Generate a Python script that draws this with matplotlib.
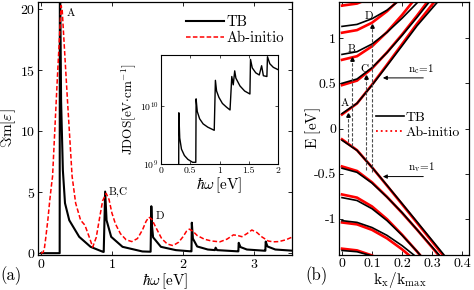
import matplotlib
matplotlib.use('Agg')
import matplotlib.pyplot as plt
from matplotlib.lines import Line2D

plt.rcParams['font.family'] = 'serif'
plt.rcParams['font.serif'] = ['cmr10', 'DejaVu Serif']
plt.rcParams['mathtext.fontset'] = 'cm'
plt.rcParams['axes.unicode_minus'] = False
plt.rcParams['axes.formatter.use_mathtext'] = True
plt.rcParams['xtick.direction'] = 'in'
plt.rcParams['ytick.direction'] = 'in'
plt.rcParams['xtick.top'] = True
plt.rcParams['ytick.right'] = True

# (a) absorption spectrum, TB
tb_w = [0.0, 0.265, 0.268, 0.285, 0.31, 0.34, 0.40, 0.54, 0.70, 0.87, 0.885, 0.905, 0.925, 0.99, 1.15,
        1.43, 1.545, 1.555, 1.565, 1.58, 1.69, 1.9, 2.11, 2.12, 2.125, 2.14, 2.2, 2.35, 2.45, 2.46,
        2.48, 2.77, 2.78, 2.785, 2.81, 2.9, 3.15, 3.16, 3.165, 3.19, 3.3, 3.55]
tb_eps = [0.0, 0.0, 25.0, 12.5, 6.8, 4.1, 2.7, 1.34, 0.52, 0.12, 0.1, 5.05, 2.7, 1.34, 0.52,
          0.14, 0.12, 3.85, 2.2, 1.3, 0.52, 0.25, 0.15, 0.15, 2.5, 1.2, 0.55, 0.3, 0.25, 0.45,
          0.25, 0.15, 0.15, 0.85, 0.5, 0.3, 0.2, 0.2, 0.95, 0.55, 0.3, 0.2]

# (a) absorption spectrum, ab-initio
ai_w = [0.0, 0.03, 0.05, 0.07, 0.10, 0.125, 0.15, 0.165, 0.225, 0.285, 0.30, 0.37, 0.44, 0.49, 0.56,
        0.62, 0.68, 0.73, 0.78, 0.83, 0.87, 0.92, 0.96, 1.0, 1.05, 1.12, 1.2, 1.28, 1.36, 1.43,
        1.48, 1.52, 1.56, 1.62, 1.7, 1.78, 1.86, 1.94, 2.0, 2.05, 2.09, 2.14, 2.2, 2.3, 2.4,
        2.52, 2.62, 2.71, 2.77, 2.83, 2.9, 2.97, 3.04, 3.11, 3.2, 3.27, 3.35, 3.45, 3.55]
ai_eps = [0.0, 0.05, 0.4, 1.3, 2.8, 4.3, 5.6, 6.3, 13.5, 20.3, 20.0, 13.0, 6.3, 4.1, 2.7,
          2.3, 1.34, 0.5, 1.3, 3.0, 4.3, 4.9, 4.4, 3.3, 2.4, 1.6, 1.1, 0.95, 1.2, 1.9,
          2.6, 2.95, 2.8, 2.1, 1.2, 0.75, 0.62, 0.9, 1.34, 1.8, 1.97, 1.8, 1.45, 1.15, 1.0,
          0.93, 1.15, 1.5, 1.45, 1.35, 1.6, 1.9, 1.7, 1.34, 1.0, 0.93, 0.95, 1.1, 1.35]

# inset JDOS
jd_w = [0.30, 0.305, 0.32, 0.35, 0.40, 0.46, 0.54, 0.595, 0.60, 0.62, 0.66, 0.72, 0.80, 0.91,
        0.93, 0.95, 0.99, 1.05, 1.12, 1.18, 1.21, 1.235, 1.26, 1.28, 1.35, 1.43, 1.52, 1.53,
        1.56, 1.62, 1.68, 1.72, 1.75, 1.81, 1.82, 1.86, 1.92, 2.0]
jd_val = [1e8, 7.6e9, 2.8e9, 1.8e9, 1.4e9, 1.2e9, 1.07e9, 1.07e9, 1.32e10, 8e9, 6e9, 4.9e9, 4.3e9, 3.8e9,
          2.75e10, 1.8e10, 1.4e10, 1.1e10, 9.5e9, 8.5e9, 3.2e10, 2.3e10, 4.0e10, 3.0e10, 2.2e10, 1.8e10, 1.6e10, 6.3e10,
          4.5e10, 3.7e10, 3.4e10, 4.9e10, 3.3e10, 3.2e10, 7.0e10, 5.3e10, 4.6e10, 4.2e10]

# (b) band structure, k grid and bands
k = [0.0, 0.05, 0.1, 0.15, 0.2, 0.25, 0.3, 0.35]
tb_cb = [
    [0.165, 0.279, 0.479, 0.695, 0.915, 1.137, 1.33, 1.52],
    [0.50, 0.548, 0.673, 0.84, 1.03, 1.23, 1.44, 1.65],
    [0.82, 0.85, 0.935, 1.065, 1.22, 1.39, 1.58, 1.78],
    [1.13, 1.152, 1.215, 1.31, 1.44, 1.6, 1.78, 1.98],
    [1.40, 1.42, 1.48, 1.56, 1.68, 1.82, 1.98, 2.15],
]
ai_cb = [
    [0.155, 0.277, 0.485, 0.707, 0.933, 1.16, 1.37, 1.58],
    [0.48, 0.53, 0.665, 0.843, 1.04, 1.25, 1.47, 1.69],
    [0.76, 0.80, 0.91, 1.068, 1.256, 1.463, 1.68, 1.9],
    [1.06, 1.089, 1.171, 1.298, 1.458, 1.64, 1.84, 2.05],
    [1.36, 1.383, 1.45, 1.55, 1.69, 1.85, 2.02, 2.2],
]
tb_vb = [
    [-0.13, -0.243, -0.43, -0.629, -0.83, -1.033, -1.237, -1.441],
    [-0.44, -0.485, -0.604, -0.76, -0.93, -1.12, -1.31, -1.50],
    [-0.765, -0.797, -0.888, -1.02, -1.181, -1.36, -1.55, -1.75],
    [-1.02, -1.039, -1.096, -1.183, -1.296, -1.428, -1.57, -1.73],
    [-1.35, -1.364, -1.41, -1.48, -1.57, -1.68, -1.8, -1.95],
]
ai_vb = [
    [-0.12, -0.24, -0.43, -0.633, -0.838, -1.044, -1.251, -1.459],
    [-0.42, -0.47, -0.596, -0.757, -0.934, -1.12, -1.315, -1.515],
    [-0.73, -0.765, -0.863, -1.004, -1.175, -1.362, -1.56, -1.76],
    [-1.04, -1.061, -1.122, -1.216, -1.337, -1.478, -1.63, -1.79],
    [-1.33, -1.349, -1.405, -1.49, -1.6, -1.72, -1.86, -2.0],
]
# optical transitions A, B, C, D
tr_names = ['A', 'B', 'C', 'D']
tr_k = [0.019, 0.034, 0.079, 0.099]
tr_lo = [-0.15, -0.19, -0.46, -0.48]
tr_hi = [0.17, 0.79, 0.59, 1.15]

fig = plt.figure(figsize=(4.74, 2.90), dpi=100)
W, H = 474, 290

# ---- panel (a)
ax = fig.add_axes([38 / W, 1 - 255 / H, 254 / W, 253 / H])
ax.plot(tb_w, tb_eps, color='k', lw=1.5, label='TB')
ax.plot(ai_w, ai_eps, color='red', lw=1.1, ls=(0, (3, 1.5)), label='Ab-initio')
ax.set_xlim(-0.04, 3.535)
ax.set_ylim(-0.15, 20.6)
ax.set_xticks([0, 1, 2, 3])
ax.set_yticks([0, 5, 10, 15, 20])
ax.tick_params(labelsize=10, length=3, width=0.6, pad=2)
ax.set_xlabel(r'$\hbar\omega\,[\mathrm{eV}]$', fontsize=11)
ax.xaxis.set_label_coords(0.5, -0.066)
ax.set_ylabel(r'$\Im\mathrm{m}[\varepsilon]$', fontsize=11)
ax.yaxis.set_label_coords(-0.078, 0.5)
ax.legend(loc='upper left', bbox_to_anchor=(0.53, 1.0), frameon=False, fontsize=10.5,
          handlelength=2.6, handletextpad=0.2, labelspacing=0.2)
ax.text(0.37, 19.7, 'A', fontsize=8, va='center')
ax.text(0.95, 5.0, 'B,C', fontsize=8, va='center')
ax.text(1.62, 3.0, 'D', fontsize=8, va='center')
for s in ax.spines.values():
    s.set_linewidth(0.9)

# ---- inset
axi = fig.add_axes([161 / W, 1 - 164 / H, 117 / W, 109 / H])
axi.semilogy(jd_w, jd_val, color='k', lw=1.0)
axi.set_xlim(0, 2)
axi.set_ylim(1e9, 7.5e10)
axi.set_xticks([0, 0.5, 1, 1.5, 2])
axi.set_xticklabels(['0', '0.5', '1', '1.5', '2'])
axi.set_yticks([1e9, 1e10])
axi.minorticks_off()
axi.tick_params(labelsize=7, length=2, width=0.5, pad=2)
axi.set_xlabel(r'$\hbar\omega\,[\mathrm{eV}]$', fontsize=11, labelpad=0)
axi.set_ylabel(r'JDOS$[\mathrm{eV}{\cdot}\mathrm{cm}^{-1}]$', fontsize=9.5, labelpad=1)

# ---- panel (b)
bx = fig.add_axes([339 / W, 1 - 255 / H, 130 / W, 253 / H])
for band in tb_cb + tb_vb:
    bx.plot(k, band, color='k', lw=1.2, zorder=3)
for band in ai_cb + ai_vb:
    bx.plot(k, band, color='red', lw=1.9, zorder=2)
for name, kk, lo, hi in zip(tr_names, tr_k, tr_lo, tr_hi):
    bx.plot([kk, kk], [lo, hi], color='0.3', lw=0.8, ls=(0, (3, 1.5)), zorder=4)
    bx.plot([kk], [hi - 0.02], marker='^', color='k', ms=2.5, zorder=5)
bx.text(-0.003, 0.28, 'A', fontsize=8, ha='left', va='center')
bx.text(0.019, 0.88, 'B', fontsize=8, ha='left', va='center')
bx.text(0.062, 0.66, 'C', fontsize=8, ha='left', va='center')
bx.text(0.076, 1.24, 'D', fontsize=8, ha='left', va='center')
bx.annotate('', xy=(0.127, 0.56), xytext=(0.28, 0.56),
            arrowprops=dict(arrowstyle='-|>', color='k', lw=0.7, mutation_scale=6))
bx.text(0.22, 0.585, r'n$_\mathrm{c}$=1', fontsize=8, ha='left', va='bottom')
bx.annotate('', xy=(0.127, -0.532), xytext=(0.28, -0.532),
            arrowprops=dict(arrowstyle='-|>', color='k', lw=0.7, mutation_scale=6))
bx.text(0.22, -0.505, r'n$_\mathrm{v}$=1', fontsize=8, ha='left', va='bottom')
handles = [Line2D([], [], color='k', lw=1.2), Line2D([], [], color='red', lw=1.3, ls=':')]
bx.legend(handles, ['TB', 'Ab-initio'], loc='upper left', bbox_to_anchor=(0.22, 0.6),
          frameon=False, fontsize=10, handlelength=2.0, handletextpad=0.1, labelspacing=0.15,
          borderaxespad=0.2)
bx.set_xlim(-0.01, 0.423)
bx.set_ylim(-1.4, 1.4)
bx.set_xticks([0, 0.1, 0.2, 0.3, 0.4])
bx.set_xticklabels(['0', '0.1', '0.2', '0.3', '0.4'])
bx.set_yticks([-1, -0.5, 0, 0.5, 1])
bx.set_yticklabels(['-1', '-0.5', '0', '0.5', '1'])
bx.tick_params(labelsize=10, length=3, width=0.6, pad=2)
bx.set_xlabel(r'$\mathrm{k_x/k_{max}}$', fontsize=11)
bx.xaxis.set_label_coords(0.47, -0.058)
bx.set_ylabel(r'$\mathrm{E\ [eV]}$', fontsize=11)
bx.yaxis.set_label_coords(-0.12, 0.5)
for s in bx.spines.values():
    s.set_linewidth(0.9)

fig.text(0.0, 0.035, '(a)', fontsize=12)
fig.text(305 / W, 0.035, '(b)', fontsize=12)

fig.savefig('out.png', dpi=100)
